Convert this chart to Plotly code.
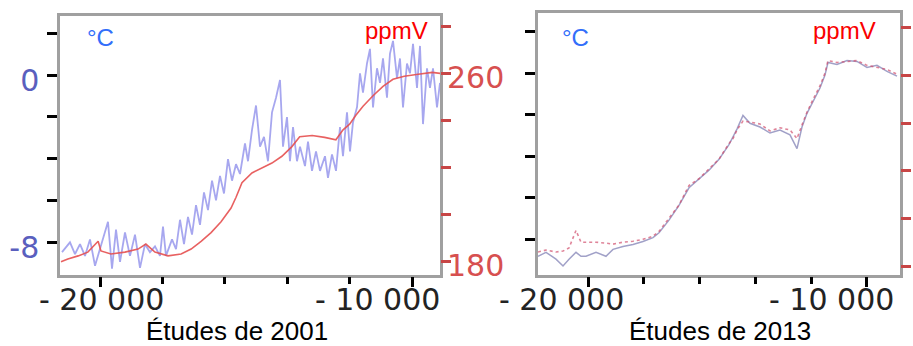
import plotly.graph_objects as go

# ---------------- Panel 1 (Études de 2001) ----------------
p1_temp_years = [-21218, -20962, -20801, -20641, -20481, -20321, -20160, -20000, -19744, -19615,
                 -19487, -19359, -19199, -19039, -18878, -18718, -18558, -18398, -18237, -18077,
                 -17981, -17885, -17692, -17564, -17436, -17308, -17180, -17051, -16923, -16795,
                 -16667, -16539, -16410, -16282, -16154, -16026, -15898, -15769, -15641, -15513,
                 -15353, -15257, -15128, -15000, -14872, -14744, -14616, -14487, -14359, -14231,
                 -14135, -14007, -13911, -13814, -13686, -13590, -13430, -13334, -13205, -13077,
                 -12949, -12789, -12693, -12564, -12436, -12308, -12212, -12084, -11988, -11891,
                 -11763, -11667, -11571, -11443, -11347, -11250, -11122, -11026, -10930, -10802,
                 -10706, -10609, -10481, -10385, -10289, -10161, -10065, -9968, -9840, -9744,
                 -9648, -9520, -9424, -9327, -9199, -9103]
p1_temp = [-8.47, -8.00, -8.56, -8.09, -8.65, -7.86, -9.12, -8.33, -7.02, -9.26,
           -7.39, -8.94, -7.53, -8.65, -7.63, -9.22, -8.09, -8.47, -8.19, -8.65,
           -7.25, -8.65, -7.86, -8.33, -6.92, -8.09, -6.78, -7.63, -6.22, -7.16,
           -5.61, -6.46, -5.05, -5.99, -4.82, -5.66, -4.02, -5.05, -4.26, -4.73,
           -3.27, -4.12, -2.62, -1.45, -3.42, -2.95, -4.12, -1.78, -1.08, -0.23,
           -3.42, -2.01, -4.12, -2.48, -4.12, -3.42, -4.35, -3.18, -4.58, -3.65,
           -4.58, -3.88, -4.91, -3.79, -4.58, -2.48, -3.88, -1.78, -3.65, -2.25,
           -1.54, 0.09, -0.84, 0.56, 1.26, -1.54, 0.33, -0.37, 0.80, -1.08,
           1.03, 1.64, -0.14, 0.80, -1.54, 0.56, 0.09, 1.50, -0.61, 1.40,
           -2.34, 0.33, -0.61, 0.33, -1.54, -0.37]

p1_co2_years = [-21250, -21030, -20700, -20390, -20060, -19970, -19650, -19200, -18780, -18530,
                -18240, -17820, -17400, -17080, -16760, -16440, -16120, -15800, -15640, -15450,
                -15130, -14810, -14490, -14170, -14010, -13850, -13600, -13200, -12800, -12630,
                -12440, -12210, -12000, -11800, -11570, -11250, -10930, -10610, -10250, -9800,
                -9350, -9100]
p1_co2 = [180.0, 181.2, 182.5, 184.1, 188.7, 184.6, 183.3, 184.1, 185.4, 187.5,
          184.1, 182.5, 183.3, 185.4, 188.7, 192.4, 197.0, 202.8, 207.4, 213.6,
          217.7, 219.8, 221.9, 224.8, 226.8, 228.9, 233.1, 233.6, 232.8, 232.2,
          231.8, 236.0, 238.4, 242.2, 246.0, 250.5, 254.5, 257.5, 258.8, 259.6,
          260.4, 260.0]

# ---------------- Panel 2 (Études de 2013) ----------------
p2_years = [-21792, -21505, -21147, -20896, -20681, -20430, -20251, -20072, -19713, -19355,
            -19104, -18746, -18387, -18029, -17670, -17455, -17097, -16739, -16380, -16022,
            -15663, -15305, -14947, -14803, -14660, -14445, -14194, -13836, -13477, -13119,
            -12760, -12509, -12330, -12151, -11936, -11685, -11506, -11398, -11076, -10717,
            -10359, -10000, -9642, -9283, -8925]
p2_temp = [-8.82, -8.63, -8.96, -9.29, -8.96, -8.63, -8.82, -8.82, -8.63, -8.82,
           -8.49, -8.35, -8.25, -8.11, -7.92, -7.69, -7.08, -6.37, -5.52, -5.09,
           -4.67, -4.15, -3.44, -3.07, -2.69, -2.03, -2.41, -2.59, -2.88, -2.74,
           -2.97, -3.63, -2.59, -1.93, -1.37, -0.71, -0.09, 0.52, 0.42, 0.61,
           0.57, 0.28, 0.38, 0.09, -0.14]
p2_co2 = [186.1, 186.9, 186.1, 186.5, 187.8, 195.1, 190.2, 190.2, 190.2, 189.8,
          189.4, 190.2, 190.6, 191.4, 192.7, 194.7, 200.4, 205.7, 213.9, 216.7,
          220.8, 224.9, 231.4, 233.5, 237.1, 240.8, 240.4, 239.6, 236.7, 238.0,
          237.1, 233.5, 239.2, 244.5, 249.8, 255.5, 260.8, 266.1, 265.3, 265.7,
          266.1, 264.1, 263.3, 262.4, 260.4]

temp_ticks = [2, 0, -2, -4, -6, -8]
temp_ticktext = ["", "0", "", "", "", "-8"]
co2_ticks = [280, 260, 240, 220, 200, 180]
co2_ticktext = ["", "260", "", "", "", "180"]
year_major = [-20000, -10000]
year_minor = [-18000, -16000, -14000, -12000]

FRAME = "rgb(160,160,160)"
TICK_FONT = dict(family="DejaVu Sans", size=30)

fig = go.Figure()

fig.add_trace(go.Scatter(x=p1_co2_years, y=p1_co2, xaxis="x", yaxis="y2", mode="lines",
                         line=dict(color="rgba(230,80,80,0.9)", width=1.6), hoverinfo="skip"))
fig.add_trace(go.Scatter(x=p1_temp_years, y=p1_temp, xaxis="x", yaxis="y", mode="lines",
                         line=dict(color="rgba(95,95,225,0.55)", width=1.8), hoverinfo="skip"))
fig.add_trace(go.Scatter(x=p2_years, y=p2_co2, xaxis="x2", yaxis="y4", mode="lines",
                         line=dict(color="rgba(210,80,110,0.7)", width=1.6, dash="dot"), hoverinfo="skip"))
fig.add_trace(go.Scatter(x=p2_years, y=p2_temp, xaxis="x2", yaxis="y3", mode="lines",
                         line=dict(color="rgba(110,110,170,0.65)", width=1.5), hoverinfo="skip"))

def xax(dom, rng, anchor):
    return dict(domain=dom, range=rng, anchor=anchor, showgrid=False, zeroline=False,
                showline=True, mirror=True, linecolor=FRAME, linewidth=2.5,
                tickmode="array", tickvals=year_major, ticks="outside", ticklen=10,
                tickwidth=3, tickcolor="black", showticklabels=False,
                minor=dict(tickmode="array", tickvals=year_minor, ticks="outside",
                           ticklen=7, tickwidth=3, tickcolor="black"))

def yleft(dom, rng, anchor, labels):
    return dict(domain=dom, range=rng, anchor=anchor, showgrid=False, zeroline=False,
                showline=True, mirror=True, linecolor=FRAME, linewidth=2.5,
                tickmode="array", tickvals=temp_ticks, ticktext=temp_ticktext,
                showticklabels=labels, ticks="outside", ticklen=10, tickwidth=3,
                tickcolor="black", ticklabelshift=5, ticklabelstandoff=2,
                tickfont=dict(TICK_FONT, color="rgb(90,95,190)"))

def yright(over, rng, anchor, labels):
    return dict(overlaying=over, side="right", range=rng, anchor=anchor, showgrid=False,
                zeroline=False, showline=False, tickmode="array", tickvals=co2_ticks,
                ticktext=co2_ticktext, showticklabels=labels, ticks="outside", ticklen=10,
                tickwidth=3, tickcolor="rgb(200,70,70)", ticklabelshift=4,
                ticklabelstandoff=-10,
                tickfont=dict(TICK_FONT, color="rgb(215,80,80)"))

fig.update_layout(
    width=913, height=346, margin=dict(l=0, r=0, t=0, b=0),
    paper_bgcolor="white", plot_bgcolor="white", showlegend=False,
    xaxis=xax([60/913, 440/913], [-21282, -9103], "y"),
    yaxis=yleft([65/346, 330/346], [-9.54, 2.85], "x", True),
    yaxis2=yright("y", [174.6, 284.5], "x", True),
    xaxis2=xax([538/913, 900/913], [-21792, -8817], "y3"),
    yaxis3=yleft([65/346, 333/346], [-9.7, 2.92], "x2", False),
    yaxis4=yright("y3", [176.7, 286.1], "x2", False),
)

ann = []
# x tick labels
for xr, xv, txt in [("x", -19940, "- 20 000"), ("x", -11122, "- 10 000"),
                    ("x2", -20932, "- 20 000"), ("x2", -11255, "- 10 000")]:
    ann.append(dict(x=xv, xref=xr, y=0.114, yref="paper", text=txt, showarrow=False,
                    xanchor="center", yanchor="middle",
                    font=dict(family="DejaVu Sans", size=30, color="rgb(35,35,35)")))
# unit labels
ann += [
    dict(x=0.066, xref="x domain", y=0.917, yref="y domain", text="°C", showarrow=False,
         xanchor="left", yanchor="middle", font=dict(family="Liberation Sans", size=24, color="rgb(50,110,250)")),
    dict(x=0.974, xref="x domain", y=0.943, yref="y domain", text="ppmV", showarrow=False,
         xanchor="right", yanchor="middle", font=dict(family="Liberation Sans", size=24, color="rgb(250,0,0)")),
    dict(x=0.061, xref="x2 domain", y=0.907, yref="y3 domain", text="°C", showarrow=False,
         xanchor="left", yanchor="middle", font=dict(family="Liberation Sans", size=24, color="rgb(50,110,250)")),
    dict(x=0.939, xref="x2 domain", y=0.933, yref="y3 domain", text="ppmV", showarrow=False,
         xanchor="right", yanchor="middle", font=dict(family="Liberation Sans", size=24, color="rgb(250,0,0)")),
    dict(x=237/913, xref="paper", y=(346-339)/346, yref="paper", text="Études de 2001", showarrow=False,
         xanchor="center", yanchor="middle", font=dict(family="Liberation Sans", size=26, color="black")),
    dict(x=720/913, xref="paper", y=(346-339)/346, yref="paper", text="Études de 2013", showarrow=False,
         xanchor="center", yanchor="middle", font=dict(family="Liberation Sans", size=26, color="black")),
]
fig.update_layout(annotations=ann)

fig.write_html("out.html")
